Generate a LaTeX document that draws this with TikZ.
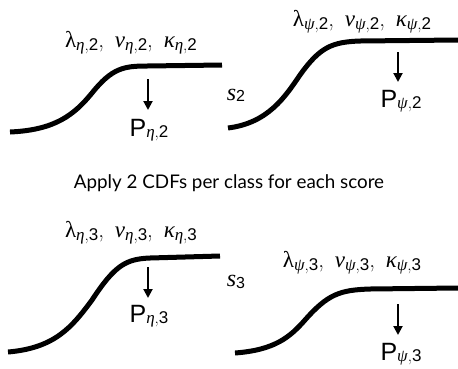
\documentclass[tikz,border=0pt]{standalone}
\usepackage{fontspec}
\usetikzlibrary{arrows.meta}
\newfontfamily\grk{Liberation Serif}
\newfontfamily\hv{Liberation Sans}
\newfontfamily\gill{Lato}
\newcommand\parset[2]{%
 {\fontsize{23}{23}\selectfont{\grk λ}\raisebox{-0.3ex}{\fontsize{17}{17}\selectfont{\grk\itshape #1},\hv #2},\,
 {\grk\itshape ν}\raisebox{-0.3ex}{\fontsize{17}{17}\selectfont{\grk\itshape #1},\hv #2},\,
 {\grk\itshape κ}\raisebox{-0.3ex}{\fontsize{17}{17}\selectfont{\grk\itshape #1},\hv #2}}}
\newcommand\prob[2]{{\hv\fontsize{25}{25}\selectfont P}\raisebox{-0.3ex}{\fontsize{17}{17}\selectfont{\grk\itshape #1},\hv #2}}
\newcommand\score[1]{{\grk\itshape\fontsize{24}{24}\selectfont s}\raisebox{-0.3ex}{\hv\fontsize{16}{16}\selectfont #1}}
\tikzset{
  cdf/.style={line width=5pt, line cap=butt},
  down/.style={line width=2pt, -{Triangle[length=9pt,width=9pt]}},
  lbl/.style={inner sep=0pt, anchor=center}
}
\begin{document}
\begin{tikzpicture}[x=1pt,y=-1pt]
\useasboundingbox (0,0) rectangle (458,368);
% top-left
\node[lbl] (pa) at (131,43) {\parset{η}{2}};
\draw[cdf] (10,132) .. controls (55,130) and (74,115) .. (92,93) .. controls (112,68) and (124,66) .. (147,66) -- (222,65);
\coordinate (aa) at (148,79);
\node[lbl] (Pa) at (149,130) {\prob{η}{2}};
\draw[down] (aa) -- (148,110);
\node[lbl] (s2) at (236,95) {\score{2}};
% top-right
\node[lbl] (pb) at (362,22) {\parset{ψ}{2}};
\draw[cdf] (228,128) .. controls (268,123) and (285,97) .. (300,75) .. controls (320,47) and (332,42) .. (360,41) -- (458,40);
\coordinate (ab) at (398,52);
\node[lbl] (Pb) at (401,101) {\prob{ψ}{2}};
\draw[down] (ab) -- (398,82);
% middle text
\node[lbl] (txt) at (229,183) {\gill\fontsize{18.8}{18.8}\selectfont Apply 2 CDFs per class for each score};
% bottom-left
\node[lbl] (pc) at (131,233) {\parset{η}{3}};
\draw[cdf] (8,352) .. controls (55,348) and (72,327) .. (92,300) .. controls (115,265) and (126,259) .. (150,258) -- (220,256);
\coordinate (ac) at (148,267);
\node[lbl] (Pc) at (149,316) {\prob{η}{3}};
\draw[down] (ac) -- (148,298);
\node[lbl] (s3) at (236,282) {\score{3}};
% bottom-right
\node[lbl] (pd) at (352,263) {\parset{ψ}{3}};
\draw[cdf] (235,353) .. controls (275,350) and (290,337) .. (305,320) .. controls (328,294) and (340,290) .. (370,289) -- (458,288);
\coordinate (ad) at (398,304);
\node[lbl] (Pd) at (401,354) {\prob{ψ}{3}};
\draw[down] (ad) -- (398,335);
\end{tikzpicture}
\end{document}
